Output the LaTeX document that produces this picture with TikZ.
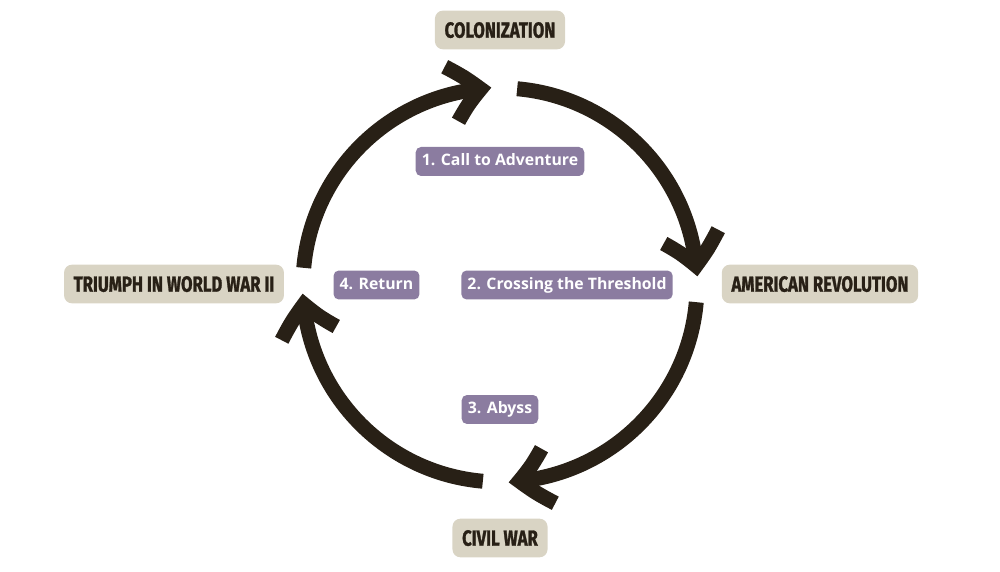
\documentclass[tikz,border=0pt]{standalone}
\usepackage{fontspec}
\usepackage{tikz}
\usetikzlibrary{arrows.meta,bending,positioning}
\setmainfont{Open Sans}
\newfontfamily\bannerfont{Fira Sans}[FakeStretch=0.76, FakeBold=1.2]
\definecolor{parchment}{RGB}{217,212,196}
\definecolor{lavender}{RGB}{139,124,160}
\definecolor{ink}{RGB}{40,32,22}

\begin{document}
\begin{tikzpicture}[x=0.02cm, y=0.02cm,
    stage/.style={rectangle, fill=parchment, rounded corners=4.5pt, inner xsep=5.5pt, minimum height=22pt, text height=8.8pt, text depth=0pt, text=ink, font=\bannerfont\bfseries\fontsize{12.5}{14}\selectfont},
    phase/.style={rectangle, fill=lavender, rounded corners=3pt, inner xsep=3.5pt, minimum height=16.5pt, text height=7pt, text depth=2pt, text=white, font=\bfseries\fontsize{9}{11}\selectfont},
    ring/.style={draw=ink, line width=8.5pt, -{Straight Barb[length=17pt, width=32pt, bend]}}]

\useasboundingbox (0,0) rectangle (1000,571);
\coordinate (hub) at (500,286);

% the four stops of the cycle
\node [stage] (colonization) at (500,541) {COLONIZATION};
\node [stage] (revolution) at (820,287) {AMERICAN REVOLUTION};
\node [stage] (civilwar) at (500,33) {CIVIL WAR};
\node [stage] (triumph) at (174,287) {TRIUMPH IN WORLD WAR II};

% steps of the journey
\node [phase] (adventure) at (500,409.5) {1. Call to Adventure};
\node [phase] (threshold) at (567,286) {2. Crossing the Threshold};
\node [phase] (abyss) at (500,161.5) {3. Abyss};
\node [phase] (return) at (376.5,286) {4. Return};

% clockwise arcs
\foreach \s/\e in {175/92.5, 85/2.5, -5/-87.5, -95/-177.5}
  \draw [ring] ([shift={(\s:197)}]hub) arc [start angle=\s, end angle=\e, radius=197];

\end{tikzpicture}
\end{document}
